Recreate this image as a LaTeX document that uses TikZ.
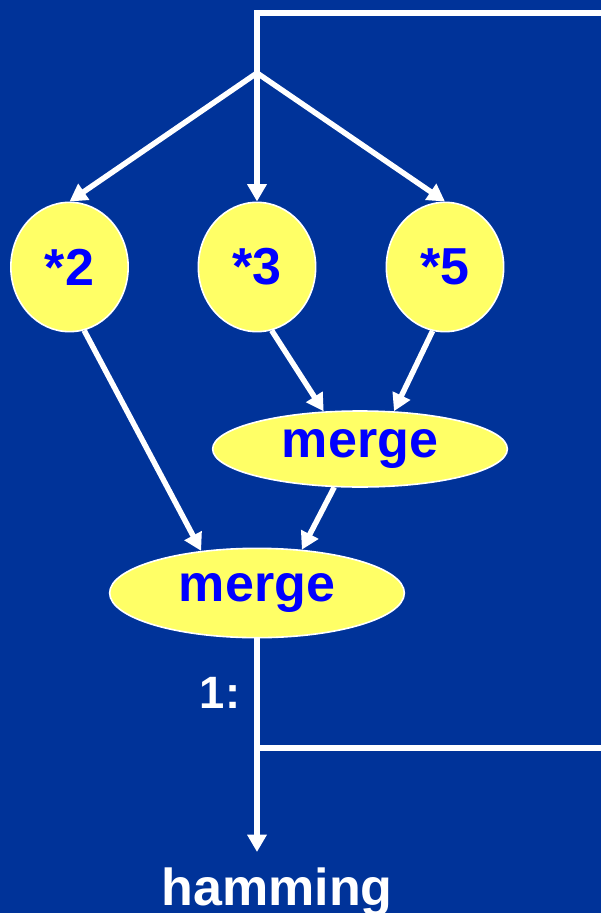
\documentclass[tikz,border=0pt]{standalone}
\usepackage{fontspec}
\setmainfont{Liberation Sans}
\usepackage{tikz}
\usetikzlibrary{arrows.meta, shapes.geometric}
\definecolor{slidebg}{HTML}{003399}
\definecolor{opfill}{HTML}{FFFF66}
\definecolor{optext}{HTML}{0000FF}
\tikzset{
    wire/.style={white, line width=4.1pt}, % 白色连线
    flow/.style={wire, -{Triangle[length=13pt, width=14pt]}}, % 带箭头的连线
    op/.style={ellipse, draw=white, line width=1.2pt, fill=opfill, text=optext, inner sep=0pt,
               font=\fontsize{39}{44}\bfseries\selectfont}, % 椭圆算子
    tag/.style={text=white, font=\fontsize{39}{44}\bfseries\selectfont}
}

\begin{document}
\begin{tikzpicture}[x=0.75pt, y=-0.75pt]
            \useasboundingbox (0,0) rectangle (601,913);
            \fill[slidebg] (0,0) rectangle (601,913);

            \node[op, minimum width=88pt, minimum height=97pt] (s2) at (69.5,267) {*2};
            \node[op, minimum width=88pt, minimum height=97pt] (s3) at (257,267) {*3};
            \node[op, minimum width=88pt, minimum height=97pt] (s5) at (445,267) {*5};
            \node[op, minimum width=221pt, minimum height=57pt] (m1) at (360,449) {merge};
            \node[op, minimum width=221pt, minimum height=67pt] (m2) at (257,593) {merge};

            \coordinate (top) at (257,13);
            \coordinate (fork) at (257,73);
            \coordinate (join) at (257,748);
            \coordinate (out) at (257,852);

            \draw[wire] (join) -- (604,748) -- (604,13) -- (top) -- (fork);
            \draw[flow] (fork) -- (s2.north);
            \draw[flow] (fork) -- (s3.north);
            \draw[flow] (fork) -- (s5.north);
            \draw[flow] (s2.-77) -- (m2.143);
            \draw[flow] (s3.-77) -- (m1.134);
            \draw[flow] (s5.-101) -- (m1.48);
            \draw[flow] (m1.-124) -- (m2.44);
            \draw[flow] (m2.south) -- (out);

            \node[tag, anchor=base, font=\fontsize{34}{40}\bfseries\selectfont] (one) at (220,708) {1:};
            \node[tag, anchor=base] (ham) at (277,905) {hamming};
        \end{tikzpicture}
\end{document}
